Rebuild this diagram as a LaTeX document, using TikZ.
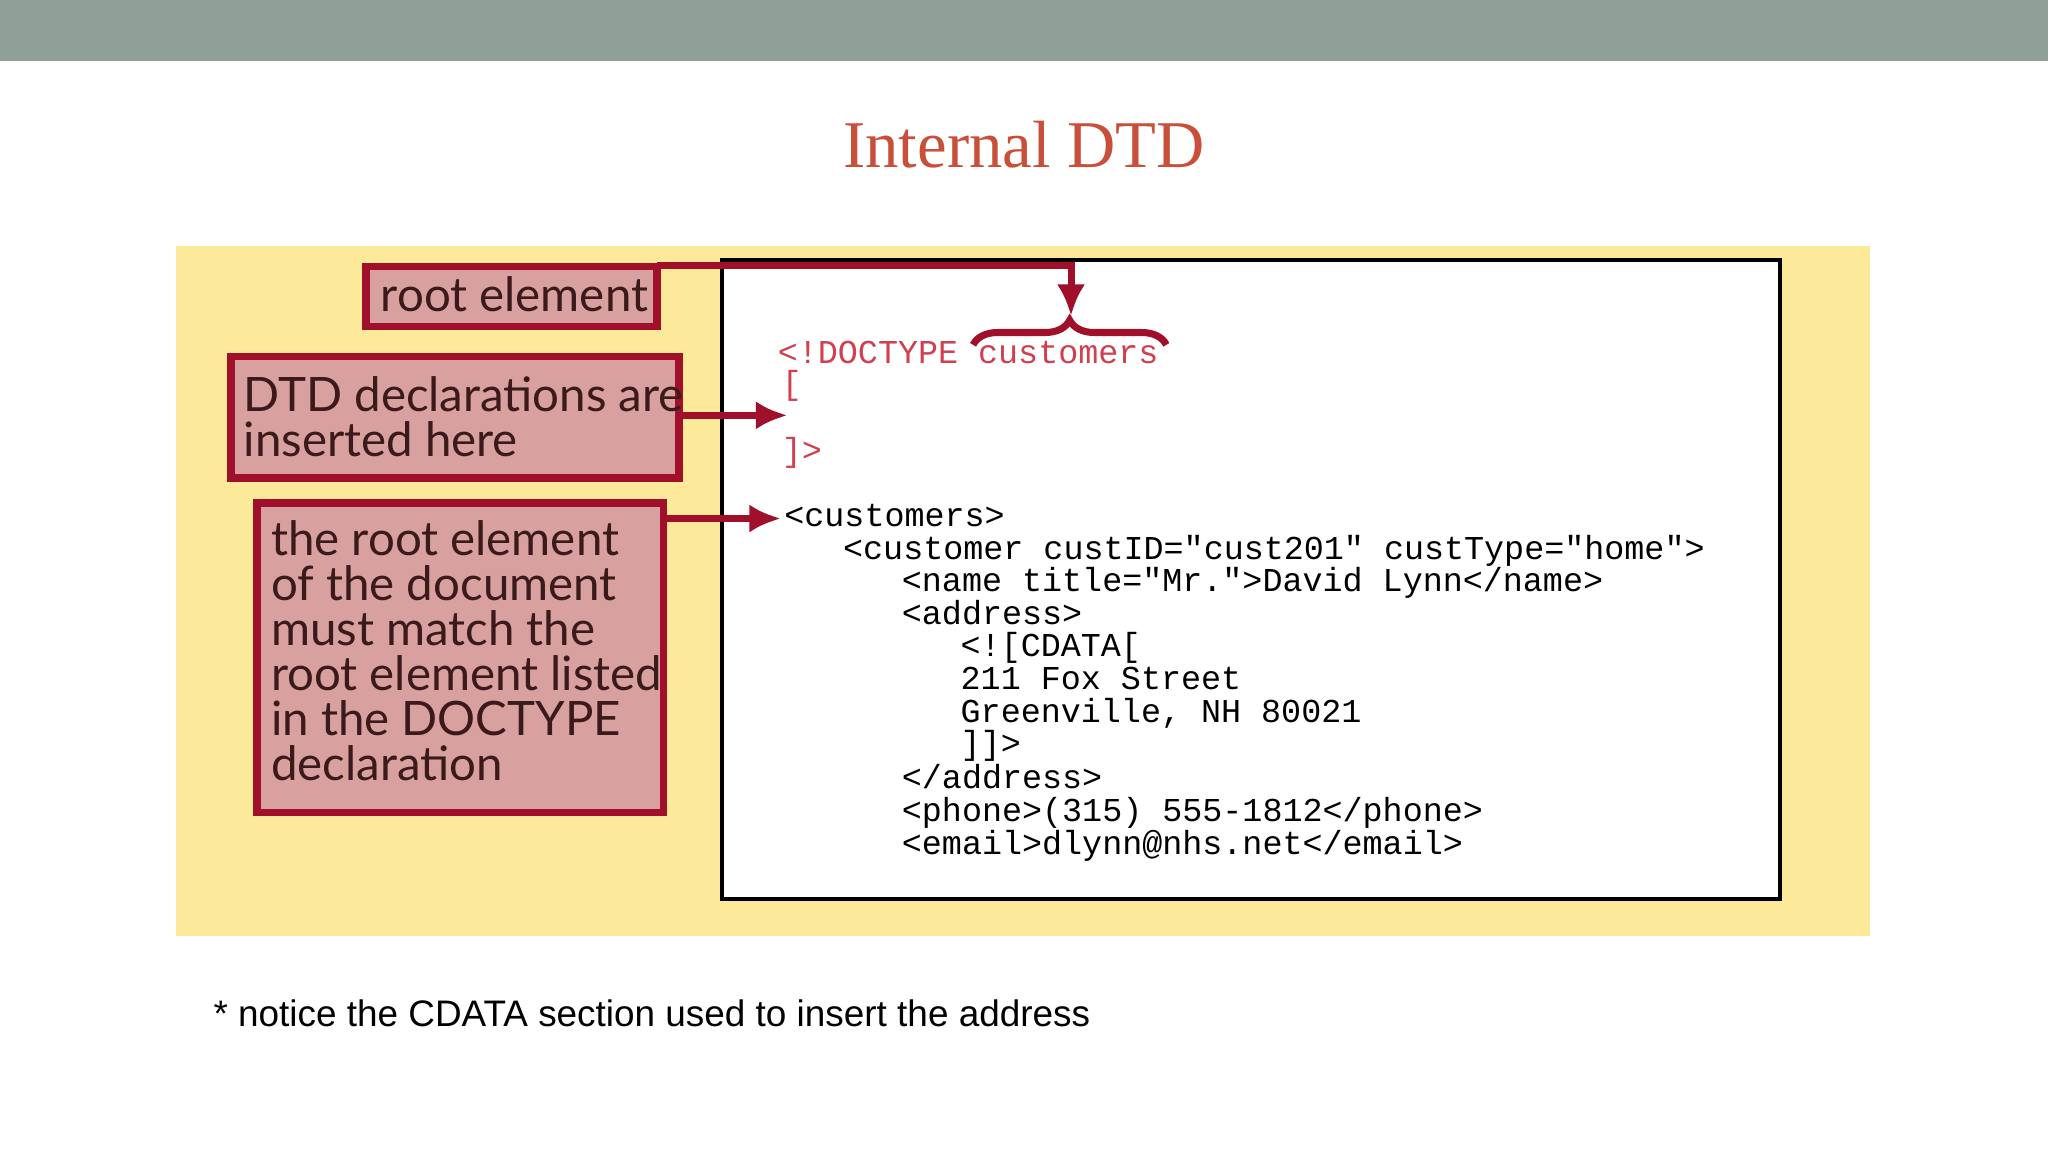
\documentclass[tikz,border=0pt]{standalone}
\usepackage{fontspec}
\setmainfont{Liberation Serif}
\newfontfamily\lab{Lato}
\newfontfamily\codef{Liberation Mono}
\newfontfamily\arialf{Liberation Sans}
\usetikzlibrary{arrows.meta,decorations.pathreplacing}
\definecolor{bar}{HTML}{8FA098}
\definecolor{ttl}{HTML}{C8503A}
\definecolor{yel}{HTML}{FCE99A}
\definecolor{pinkf}{HTML}{D9A0A0}
\definecolor{dred}{HTML}{A0102A}
\definecolor{codered}{HTML}{D04050}
\definecolor{labtxt}{HTML}{3A1A1A}
\tikzset{
  labbox/.style={draw=dred,line width=2.2pt,fill=pinkf},
  labtext/.style={anchor=north west,font=\lab\fontsize{13.5}{12.8}\selectfont,text=labtxt,align=left,inner sep=0pt},
  code/.style={anchor=base west,inner sep=0pt,font=\codef\fontsize{9.5}{11}\selectfont},
  redcode/.style={code,text=codered},
  arr/.style={draw=dred,line width=2pt,-{Latex[length=9pt,width=8pt]}}
}
\begin{document}
\begin{tikzpicture}[x=0.01306cm,y=-0.01306cm]
\useasboundingbox (0,0) rectangle (1568,882);
\fill[white] (0,0) rectangle (1568,882);
\fill[bar] (0,0) rectangle (1568,47);
\node[font=\fontsize{19}{22}\selectfont,text=ttl,anchor=base] (title) at (784,128) {Internal DTD};
\fill[yel] (135,188) rectangle (1432,717);
\draw[fill=white,line width=1.2pt] (553,199) rectangle (1363,688);
% label boxes
\draw[labbox] (280,204) rectangle (503,250);
\node[labtext,anchor=west] (l1) at (291,225) {root element};
\draw[labbox] (177,273) rectangle (520,366);
\node[labtext] (l2) at (186,288) {DTD declarations are\\inserted here};
\draw[labbox] (197,385) rectangle (508,622);
\node[labtext] (l3) at (207,398) {the root element\\of the document\\must match the\\root element listed\\in the DOCTYPE\\declaration};
\coordinate (a1) at (503,203);
\coordinate (a1b) at (820,203);
\coordinate (a1e) at (820,242);
\draw[arr] (a1) -- (a1b) -- (a1e);
\draw[dred,line width=2pt,decorate,decoration={brace,amplitude=7pt,mirror}] (893,264) -- (745,264);
\coordinate (a2s) at (520,318);
\coordinate (a2e) at (603,318);
\draw[arr] (a2s) -- (a2e);
\coordinate (a3s) at (508,397);
\coordinate (a3e) at (598,397);
\draw[arr] (a3s) -- (a3e);
% code
\node[redcode] (c1) at (595,278) {<!DOCTYPE customers};
\node[redcode] (c2) at (598,302) {[};
\node[redcode] (c3) at (598,353) {]>};
\node[code] (k1) at (600,403) {<customers>};
\node[code] (k2) at (645,428) {<customer custID="cust201" custType="home">};
\node[code] (k3) at (690,453) {<name title="Mr.">David Lynn</name>};
\node[code] (k4) at (690,478) {<address>};
\node[code] (k5) at (735,503) {<![CDATA[};
\node[code] (k6) at (735,528) {211 Fox Street};
\node[code] (k7) at (735,553) {Greenville, NH 80021};
\node[code] (k8) at (735,578) {]]>};
\node[code] (k9) at (690,604) {</address>};
\node[code] (k10) at (690,629) {<phone>(315) 555-1812</phone>};
\node[code] (k11) at (690,654) {<email>dlynn@nhs.net</email>};
\node[anchor=base west,inner sep=0pt,font=\arialf\fontsize{10.5}{12}\selectfont] (fn) at (163,786) {* notice the CDATA section used to insert the address};
\end{tikzpicture}
\end{document}
